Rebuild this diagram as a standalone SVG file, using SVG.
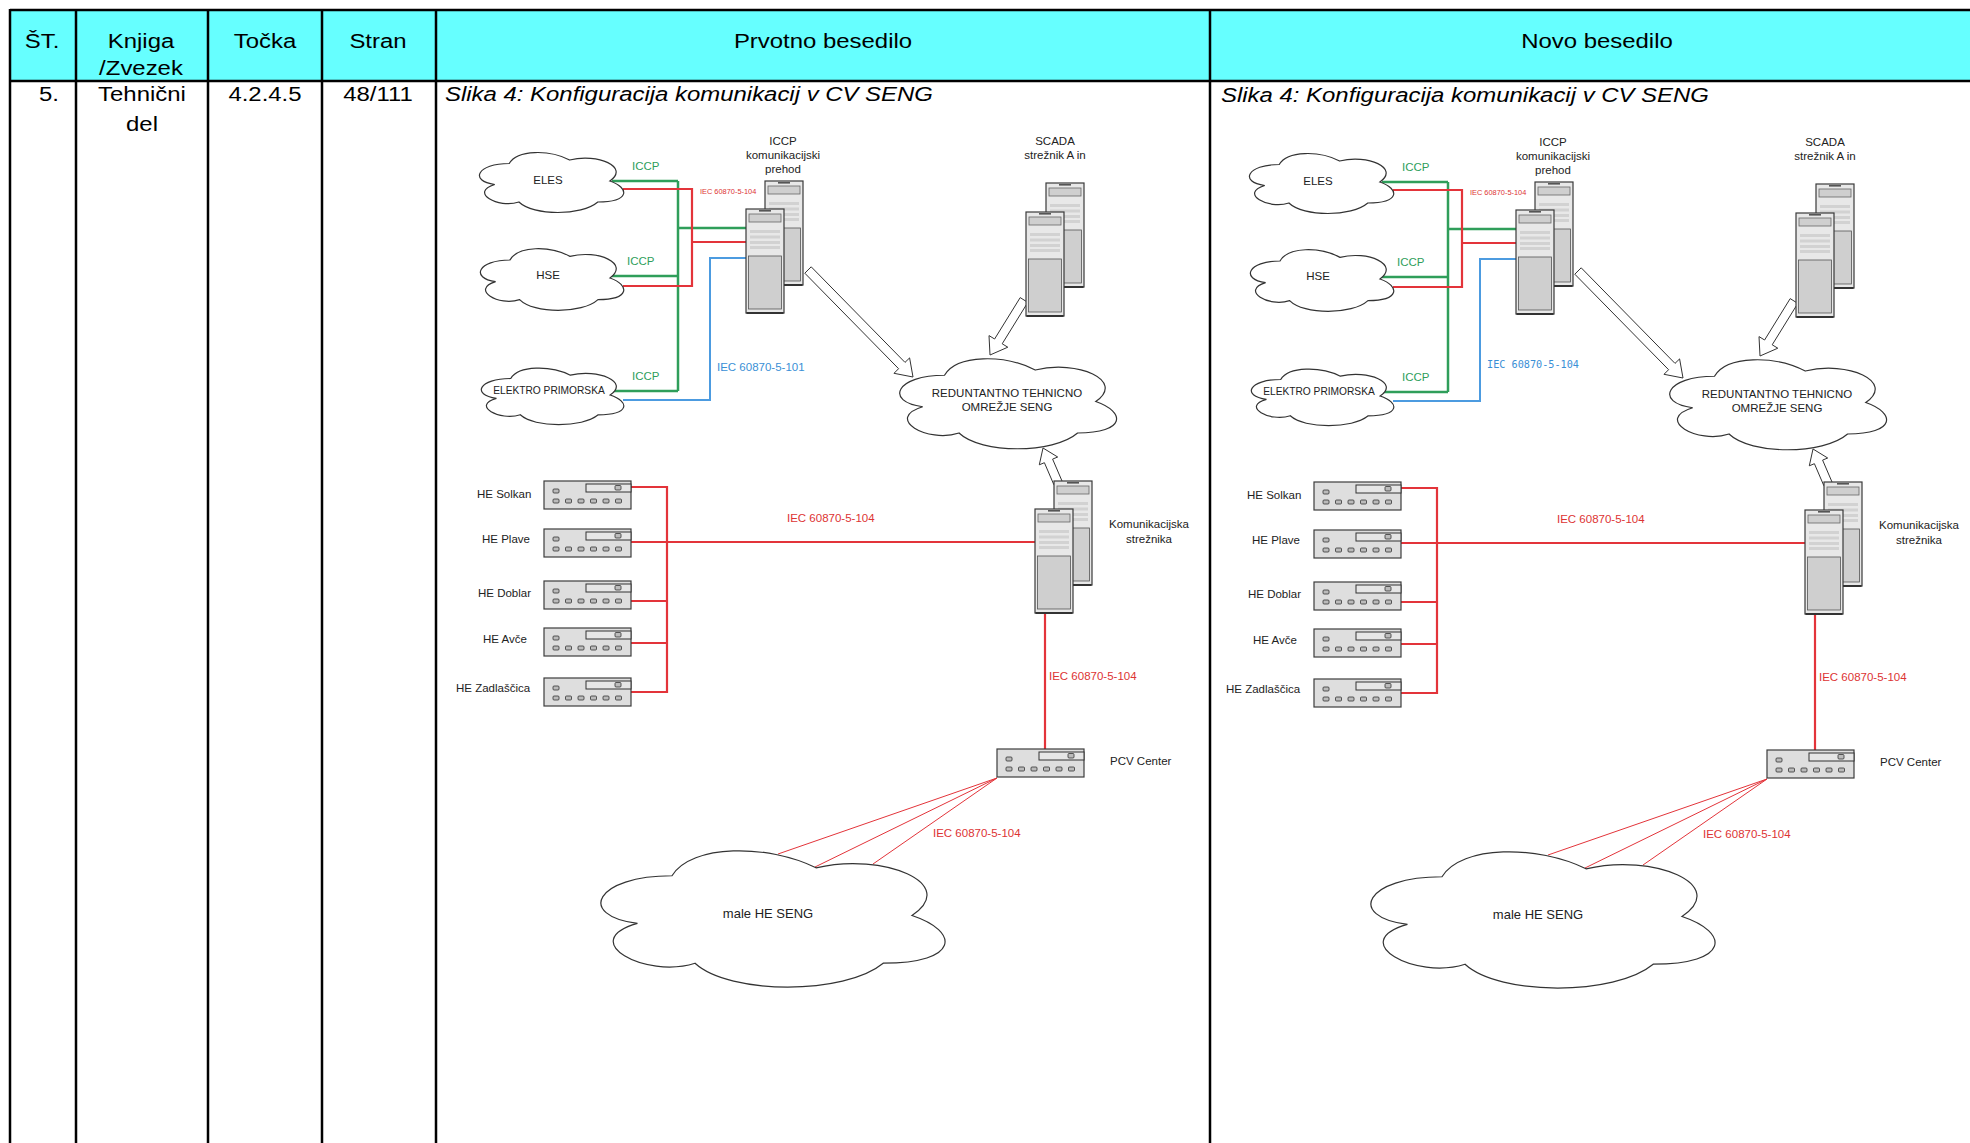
<svg xmlns="http://www.w3.org/2000/svg" xmlns:xlink="http://www.w3.org/1999/xlink" width="1970" height="1143" viewBox="0 0 1970 1143">
<style>
.tbl{stroke:#000;stroke-width:2.5;fill:none}
.hd{font-family:"Liberation Sans",Arial,sans-serif;font-size:21px;fill:#000}
.cap{font-family:"Liberation Sans",Arial,sans-serif;font-size:21px;font-style:italic;fill:#000}
.lb{font-family:"Liberation Sans",Arial,sans-serif;font-size:11.5px;fill:#222}
.mid{text-anchor:middle}
.cloud{fill:#fff;stroke:#333;stroke-width:1.2}
.g{stroke:#2f9e5a;stroke-width:2.5;fill:none}
.r{stroke:#e3343a;stroke-width:2.2;fill:none}
.rt{stroke:#e3343a;stroke-width:1;fill:none}
.b{stroke:#4c9be0;stroke-width:2;fill:none}
.gt{fill:#2e9e5b}
.rtx{fill:#dd3333}
.bt{fill:#3a8fd6}
.arr{fill:#fff;stroke:#333;stroke-width:1}
</style>
<defs>
<g id="srv">
<rect x="0" y="0" width="38" height="104" fill="#e8e8e8" stroke="#3a3a3a" stroke-width="1.2"/>
<rect x="13" y="1" width="12" height="1.6" fill="#555"/>
<rect x="3" y="5" width="32" height="8" fill="#cfcfcf" stroke="#666" stroke-width="0.8"/>
<rect x="4" y="21" width="30" height="3" fill="#d2d2d2"/>
<rect x="4" y="26.5" width="30" height="3" fill="#d2d2d2"/>
<rect x="4" y="32" width="30" height="3" fill="#d2d2d2"/>
<rect x="4" y="37" width="30" height="3" fill="#d2d2d2"/>
<rect x="2.5" y="47" width="33" height="53" fill="#cfcfcf" stroke="#555" stroke-width="0.8"/>
<line x1="0.5" y1="104" x2="37.5" y2="104" stroke="#333" stroke-width="2"/>
</g>
<g id="dev">
<rect x="0" y="0" width="87" height="28" fill="#dedede" stroke="#3c3c3c" stroke-width="1.2"/>
<rect x="42" y="3" width="45" height="8" fill="#e6e6e6" stroke="#333" stroke-width="1"/>
<rect x="71" y="4.5" width="6" height="4.5" rx="1" fill="#bbb" stroke="#333" stroke-width="0.8"/>
<rect x="9" y="8" width="6" height="4" rx="1" fill="#bbb" stroke="#333" stroke-width="0.8"/>
<rect x="9" y="18" width="6" height="4" rx="1" fill="#bbb" stroke="#333" stroke-width="0.8"/>
<rect x="21.5" y="18" width="6" height="4" rx="1" fill="#bbb" stroke="#333" stroke-width="0.8"/>
<rect x="34" y="18" width="6" height="4" rx="1" fill="#bbb" stroke="#333" stroke-width="0.8"/>
<rect x="46.5" y="18" width="6" height="4" rx="1" fill="#bbb" stroke="#333" stroke-width="0.8"/>
<rect x="59" y="18" width="6" height="4" rx="1" fill="#bbb" stroke="#333" stroke-width="0.8"/>
<rect x="71.5" y="18" width="6" height="4" rx="1" fill="#bbb" stroke="#333" stroke-width="0.8"/>
</g>
</defs>
<rect width="1970" height="1143" fill="#fff"/>
<g id="table">
<rect x="10" y="10" width="1975" height="71" fill="#66ffff"/>
<line class="tbl" x1="10" y1="10" x2="1970" y2="10"/>
<line class="tbl" x1="10" y1="81" x2="1970" y2="81"/>
<line class="tbl" x1="10" y1="9" x2="10" y2="1143"/>
<line class="tbl" x1="76" y1="9" x2="76" y2="1143"/>
<line class="tbl" x1="208" y1="9" x2="208" y2="1143"/>
<line class="tbl" x1="322" y1="9" x2="322" y2="1143"/>
<line class="tbl" x1="436" y1="9" x2="436" y2="1143"/>
<line class="tbl" x1="1210" y1="9" x2="1210" y2="1143"/>
<text class="hd mid" transform="translate(42 48) scale(1.14 1)">ŠT.</text>
<text class="hd mid" transform="translate(141 48) scale(1.14 1)">Knjiga</text>
<text class="hd mid" transform="translate(141 75) scale(1.14 1)">/Zvezek</text>
<text class="hd mid" transform="translate(265 48) scale(1.14 1)">Točka</text>
<text class="hd mid" transform="translate(378 48) scale(1.14 1)">Stran</text>
<text class="hd mid" transform="translate(823 48) scale(1.14 1)">Prvotno besedilo</text>
<text class="hd mid" transform="translate(1597 48) scale(1.14 1)">Novo besedilo</text>
<text class="hd" text-anchor="end" transform="translate(59 101) scale(1.14 1)">5.</text>
<text class="hd mid" transform="translate(142 101) scale(1.14 1)">Tehnični</text>
<text class="hd mid" transform="translate(142 131) scale(1.14 1)">del</text>
<text class="hd mid" transform="translate(265 101) scale(1.14 1)">4.2.4.5</text>
<text class="hd mid" transform="translate(378 101) scale(1.14 1)">48/111</text>
<text class="cap" transform="translate(445 101) scale(1.14 1)">Slika 4: Konfiguracija komunikacij v CV SENG</text>
<text class="cap" transform="translate(1221 102) scale(1.14 1)">Slika 4: Konfiguracija komunikacij v CV SENG</text>
</g>

<g id="left-panel">
<g id="L-connectors">
<polyline class="g" points="612,181 678,181"/>
<polyline class="g" points="612,276 678,276"/>
<polyline class="g" points="612,391 678,391"/>
<polyline class="g" points="678,181 678,391"/>
<polyline class="g" points="678,228 746,228"/>
<polyline class="r" points="623,189 692,189 692,286 623,286"/>
<polyline class="r" points="692,242 746,242"/>
<polyline class="b" points="623,400 710,400 710,258 746,258"/>
<polyline class="r" points="631,487 667,487 667,692 631,692"/>
<polyline class="r" points="631,601 667,601"/>
<polyline class="r" points="631,643 667,643"/>
<polyline class="r" points="631,542 1035,542"/>
<polyline class="r" points="1045,614 1045,749"/>
<line class="rt" x1="997" y1="778" x2="778" y2="854" stroke-width="1.5"/>
<line class="rt" x1="997" y1="778" x2="815" y2="867"/>
<line class="rt" x1="997" y1="778" x2="873" y2="864"/>
<polygon class="arr" points="804.8,273.2 898.6,368.7 894,373.3 913,377 909.6,357.9 905,362.4 811.2,266.8"/>
<polygon class="arr" points="1020.2,297.6 994.6,339 989,335.6 990,355 1007.8,347.2 1002.2,343.8 1027.8,302.4"/>
<polygon class="arr" points="1062.1,481.2 1052.6,459.1 1057.7,457 1043,448 1039.3,464.8 1044.4,462.7 1053.9,484.8"/>
<text class="lb gt" x="632" y="170">ICCP</text>
<text class="lb gt" x="627" y="265">ICCP</text>
<text class="lb gt" x="632" y="380">ICCP</text>
<text class="lb rtx" x="700" y="194" style="font-size:7.4px">IEC 60870-5-104</text>
<text class="lb bt" x="717" y="371">IEC 60870-5-101</text>
<text class="lb rtx" x="787" y="522">IEC 60870-5-104</text>
<text class="lb rtx" x="1049" y="680">IEC 60870-5-104</text>
<text class="lb rtx" x="933" y="837">IEC 60870-5-104</text>
</g>
<g id="L-eles"><path class="cloud" vector-effect="non-scaling-stroke" transform="translate(469 146) scale(1.61 0.70)" d="M25,25 C5,25 0,50 16,55 C0,66 18,90 31,80 C40,100 70,100 80,80 C100,80 100,60 87.5,50 C100,30 80,10 62.5,20 C50,5 30,5 25,25 Z"/><text class="lb mid" x="548" y="184">ELES</text></g>
<g id="L-hse"><path class="cloud" vector-effect="non-scaling-stroke" transform="translate(470 242) scale(1.60 0.72)" d="M25,25 C5,25 0,50 16,55 C0,66 18,90 31,80 C40,100 70,100 80,80 C100,80 100,60 87.5,50 C100,30 80,10 62.5,20 C50,5 30,5 25,25 Z"/><text class="lb mid" x="548" y="279">HSE</text></g>
<g id="L-elektro"><path class="cloud" vector-effect="non-scaling-stroke" transform="translate(471 362) scale(1.59 0.66)" d="M25,25 C5,25 0,50 16,55 C0,66 18,90 31,80 C40,100 70,100 80,80 C100,80 100,60 87.5,50 C100,30 80,10 62.5,20 C50,5 30,5 25,25 Z"/><text class="lb mid" x="549" y="394" style="font-size:10.2px">ELEKTRO PRIMORSKA</text></g>
<g id="L-iccp"><use xlink:href="#srv" x="765" y="181"/><use xlink:href="#srv" x="746" y="209"/><text class="lb mid" x="783" y="145">ICCP</text><text class="lb mid" x="783" y="159">komunikacijski</text><text class="lb mid" x="783" y="173">prehod</text></g>
<g id="L-scada"><use xlink:href="#srv" x="1046" y="183"/><use xlink:href="#srv" x="1026" y="212"/><text class="lb mid" x="1055" y="145">SCADA</text><text class="lb mid" x="1055" y="159">strežnik A in</text></g>
<g id="L-omrezje"><path class="cloud" vector-effect="non-scaling-stroke" transform="translate(884 349) scale(2.42 1.05)" d="M25,25 C5,25 0,50 16,55 C0,66 18,90 31,80 C40,100 70,100 80,80 C100,80 100,60 87.5,50 C100,30 80,10 62.5,20 C50,5 30,5 25,25 Z"/><text class="lb mid" x="1007" y="397">REDUNTANTNO TEHNICNO</text><text class="lb mid" x="1007" y="411">OMREŽJE SENG</text></g>
<g id="L-kom"><use xlink:href="#srv" x="1054" y="481"/><use xlink:href="#srv" x="1035" y="509"/><text class="lb mid" x="1149" y="528">Komunikacijska</text><text class="lb mid" x="1149" y="543">strežnika</text></g>
<g id="L-solkan"><use xlink:href="#dev" x="544" y="481"/><text class="lb" x="477" y="498">HE Solkan</text></g>
<g id="L-plave"><use xlink:href="#dev" x="544" y="529"/><text class="lb" x="482" y="543">HE Plave</text></g>
<g id="L-doblar"><use xlink:href="#dev" x="544" y="581"/><text class="lb" x="478" y="597">HE Doblar</text></g>
<g id="L-avce"><use xlink:href="#dev" x="544" y="628"/><text class="lb" x="483" y="643">HE Avče</text></g>
<g id="L-zadlascica"><use xlink:href="#dev" x="544" y="678"/><text class="lb" x="456" y="692">HE Zadlaščica</text></g>
<g id="L-pcv"><use xlink:href="#dev" x="997" y="749"/><text class="lb" x="1110" y="765">PCV Center</text></g>
<g id="L-male"><path class="cloud" vector-effect="non-scaling-stroke" transform="translate(576 836) scale(3.84 1.59)" d="M25,25 C5,25 0,50 16,55 C0,66 18,90 31,80 C40,100 70,100 80,80 C100,80 100,60 87.5,50 C100,30 80,10 62.5,20 C50,5 30,5 25,25 Z"/><text class="lb mid" x="768" y="918" style="font-size:13px">male HE SENG</text></g>
</g>

<g id="right-panel" transform="translate(770 1)">
<g id="R-connectors">
<polyline class="g" points="612,181 678,181"/>
<polyline class="g" points="612,276 678,276"/>
<polyline class="g" points="612,391 678,391"/>
<polyline class="g" points="678,181 678,391"/>
<polyline class="g" points="678,228 746,228"/>
<polyline class="r" points="623,189 692,189 692,286 623,286"/>
<polyline class="r" points="692,242 746,242"/>
<polyline class="b" points="623,400 710,400 710,258 746,258"/>
<polyline class="r" points="631,487 667,487 667,692 631,692"/>
<polyline class="r" points="631,601 667,601"/>
<polyline class="r" points="631,643 667,643"/>
<polyline class="r" points="631,542 1035,542"/>
<polyline class="r" points="1045,614 1045,749"/>
<line class="rt" x1="997" y1="778" x2="778" y2="854" stroke-width="1.5"/>
<line class="rt" x1="997" y1="778" x2="815" y2="867"/>
<line class="rt" x1="997" y1="778" x2="873" y2="864"/>
<polygon class="arr" points="804.8,273.2 898.6,368.7 894,373.3 913,377 909.6,357.9 905,362.4 811.2,266.8"/>
<polygon class="arr" points="1020.2,297.6 994.6,339 989,335.6 990,355 1007.8,347.2 1002.2,343.8 1027.8,302.4"/>
<polygon class="arr" points="1062.1,481.2 1052.6,459.1 1057.7,457 1043,448 1039.3,464.8 1044.4,462.7 1053.9,484.8"/>
<text class="lb gt" x="632" y="170">ICCP</text>
<text class="lb gt" x="627" y="265">ICCP</text>
<text class="lb gt" x="632" y="380">ICCP</text>
<text class="lb rtx" x="700" y="194" style="font-size:7.4px">IEC 60870-5-104</text>
<text class="bt" x="717" y="367" style="font-family:'DejaVu Sans Mono',monospace;font-size:10.2px">IEC 60870-5-104</text>
<text class="lb rtx" x="787" y="522">IEC 60870-5-104</text>
<text class="lb rtx" x="1049" y="680">IEC 60870-5-104</text>
<text class="lb rtx" x="933" y="837">IEC 60870-5-104</text>
</g>
<g id="R-eles"><path class="cloud" vector-effect="non-scaling-stroke" transform="translate(469 146) scale(1.61 0.70)" d="M25,25 C5,25 0,50 16,55 C0,66 18,90 31,80 C40,100 70,100 80,80 C100,80 100,60 87.5,50 C100,30 80,10 62.5,20 C50,5 30,5 25,25 Z"/><text class="lb mid" x="548" y="184">ELES</text></g>
<g id="R-hse"><path class="cloud" vector-effect="non-scaling-stroke" transform="translate(470 242) scale(1.60 0.72)" d="M25,25 C5,25 0,50 16,55 C0,66 18,90 31,80 C40,100 70,100 80,80 C100,80 100,60 87.5,50 C100,30 80,10 62.5,20 C50,5 30,5 25,25 Z"/><text class="lb mid" x="548" y="279">HSE</text></g>
<g id="R-elektro"><path class="cloud" vector-effect="non-scaling-stroke" transform="translate(471 362) scale(1.59 0.66)" d="M25,25 C5,25 0,50 16,55 C0,66 18,90 31,80 C40,100 70,100 80,80 C100,80 100,60 87.5,50 C100,30 80,10 62.5,20 C50,5 30,5 25,25 Z"/><text class="lb mid" x="549" y="394" style="font-size:10.2px">ELEKTRO PRIMORSKA</text></g>
<g id="R-iccp"><use xlink:href="#srv" x="765" y="181"/><use xlink:href="#srv" x="746" y="209"/><text class="lb mid" x="783" y="145">ICCP</text><text class="lb mid" x="783" y="159">komunikacijski</text><text class="lb mid" x="783" y="173">prehod</text></g>
<g id="R-scada"><use xlink:href="#srv" x="1046" y="183"/><use xlink:href="#srv" x="1026" y="212"/><text class="lb mid" x="1055" y="145">SCADA</text><text class="lb mid" x="1055" y="159">strežnik A in</text></g>
<g id="R-omrezje"><path class="cloud" vector-effect="non-scaling-stroke" transform="translate(884 349) scale(2.42 1.05)" d="M25,25 C5,25 0,50 16,55 C0,66 18,90 31,80 C40,100 70,100 80,80 C100,80 100,60 87.5,50 C100,30 80,10 62.5,20 C50,5 30,5 25,25 Z"/><text class="lb mid" x="1007" y="397">REDUNTANTNO TEHNICNO</text><text class="lb mid" x="1007" y="411">OMREŽJE SENG</text></g>
<g id="R-kom"><use xlink:href="#srv" x="1054" y="481"/><use xlink:href="#srv" x="1035" y="509"/><text class="lb mid" x="1149" y="528">Komunikacijska</text><text class="lb mid" x="1149" y="543">strežnika</text></g>
<g id="R-solkan"><use xlink:href="#dev" x="544" y="481"/><text class="lb" x="477" y="498">HE Solkan</text></g>
<g id="R-plave"><use xlink:href="#dev" x="544" y="529"/><text class="lb" x="482" y="543">HE Plave</text></g>
<g id="R-doblar"><use xlink:href="#dev" x="544" y="581"/><text class="lb" x="478" y="597">HE Doblar</text></g>
<g id="R-avce"><use xlink:href="#dev" x="544" y="628"/><text class="lb" x="483" y="643">HE Avče</text></g>
<g id="R-zadlascica"><use xlink:href="#dev" x="544" y="678"/><text class="lb" x="456" y="692">HE Zadlaščica</text></g>
<g id="R-pcv"><use xlink:href="#dev" x="997" y="749"/><text class="lb" x="1110" y="765">PCV Center</text></g>
<g id="R-male"><path class="cloud" vector-effect="non-scaling-stroke" transform="translate(576 836) scale(3.84 1.59)" d="M25,25 C5,25 0,50 16,55 C0,66 18,90 31,80 C40,100 70,100 80,80 C100,80 100,60 87.5,50 C100,30 80,10 62.5,20 C50,5 30,5 25,25 Z"/><text class="lb mid" x="768" y="918" style="font-size:13px">male HE SENG</text></g>
</g>
</svg>
